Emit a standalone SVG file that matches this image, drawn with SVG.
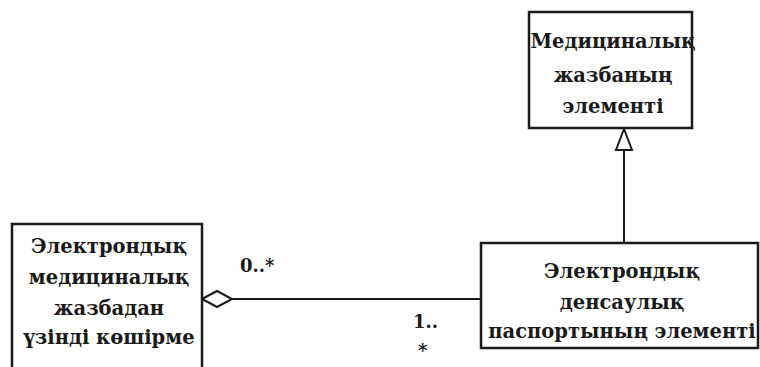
<svg xmlns="http://www.w3.org/2000/svg" width="760" height="367" viewBox="0 0 760 367">
<style>
.box{fill:#fff;stroke:#1a1a1a;stroke-width:2.5}
.t{font-family:"DejaVu Serif",serif;font-size:19.5px;font-weight:bold;fill:#1a1a1a;text-anchor:middle}
.m{font-family:"DejaVu Serif",serif;font-size:18px;font-weight:bold;fill:#1a1a1a}
.ln{stroke:#1a1a1a;stroke-width:2;fill:none}
</style>
<rect width="760" height="367" fill="#fff"/>
<g id="connectors">
<line class="ln" x1="624" y1="150" x2="624" y2="243"/>
<polygon points="624,129 616,150 632,150" fill="#fff" stroke="#1a1a1a" stroke-width="2"/>
<line class="ln" x1="232" y1="299" x2="481" y2="299"/>
<polygon points="202,299 217,291 232,299 217,307" fill="#fff" stroke="#1a1a1a" stroke-width="2"/>
<text class="m" x="240" y="272">0..*</text>
<text class="m" x="413" y="328">1..</text>
<text class="m" x="418" y="357">*</text>
</g>
<g id="node-top">
<rect class="box" x="529" y="12" width="163" height="116"/>
<text class="t" x="613" y="48">Медициналық</text>
<text class="t" x="613" y="82">жазбаның</text>
<text class="t" x="613" y="113">элементі</text>
</g>
<g id="node-left">
<rect class="box" x="12" y="224" width="190" height="160"/>
<text class="t" x="109" y="253">Электрондық</text>
<text class="t" x="109" y="284">медициналық</text>
<text class="t" x="109" y="315">жазбадан</text>
<text class="t" x="109" y="344">үзінді көшірме</text>
</g>
<g id="node-right">
<rect class="box" x="481" y="243" width="277" height="105"/>
<text class="t" x="622" y="278">Электрондық</text>
<text class="t" x="622" y="309">денсаулық</text>
<text class="t" x="622" y="338">паспортының элементі</text>
</g>
</svg>
